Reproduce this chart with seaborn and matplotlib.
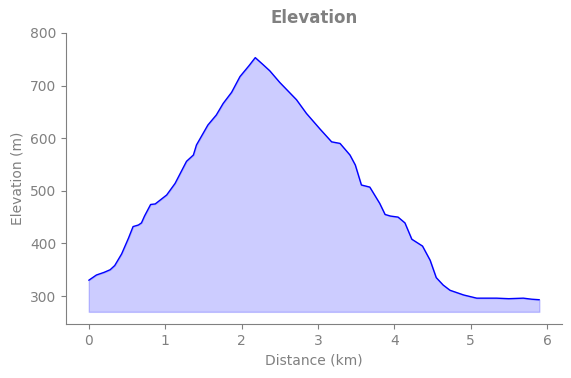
import pandas as pd
import seaborn as sns
import matplotlib.pyplot as plt

# elevation profile
distance = [0.0, 0.1, 0.2, 0.28, 0.34, 0.43, 0.52, 0.58, 0.65, 0.69, 0.73, 0.81, 0.87, 1.02, 1.13,
            1.28, 1.37, 1.41, 1.56, 1.67, 1.76, 1.87, 1.98, 2.1, 2.18, 2.28, 2.37, 2.5, 2.62, 2.72,
            2.85, 3.03, 3.18, 3.29, 3.42, 3.49, 3.57, 3.68, 3.81, 3.88, 3.95, 4.05, 4.14, 4.23,
            4.37, 4.47, 4.55, 4.64, 4.73, 4.91, 5.08, 5.34, 5.5, 5.69, 5.8, 5.9]
elevation = [330, 340, 345, 350, 358, 380, 410, 432, 435, 439, 452, 474, 475, 492, 514,
             556, 568, 587, 625, 644, 666, 687, 717, 738, 753, 740, 728, 706, 688, 673,
             647, 617, 593, 590, 568, 549, 511, 507, 476, 455, 452, 450, 439, 408,
             395, 368, 335, 321, 311, 302, 296, 296, 295, 296, 294, 293]
base = 270

df = pd.DataFrame({'Distance (km)': distance, 'Elevation (m)': elevation})

sns.set_style('ticks')
grey = '#808080'
plt.rcParams.update({'text.color': grey, 'axes.labelcolor': grey,
                     'xtick.color': grey, 'ytick.color': grey, 'axes.edgecolor': grey})

fig, ax = plt.subplots(figsize=(5.71, 3.78), dpi=100)
ax.fill_between(df['Distance (km)'], df['Elevation (m)'], base, color='blue', alpha=0.2)
sns.lineplot(data=df, x='Distance (km)', y='Elevation (m)', color='blue', linewidth=1, ax=ax)
ax.set_ylim(247, 800)
ax.set_title('Elevation', fontsize=12, fontweight='bold', color=grey, pad=7)
sns.despine()
fig.subplots_adjust(left=0.116, right=0.984, top=0.913, bottom=0.143)
plt.savefig('out.png')
